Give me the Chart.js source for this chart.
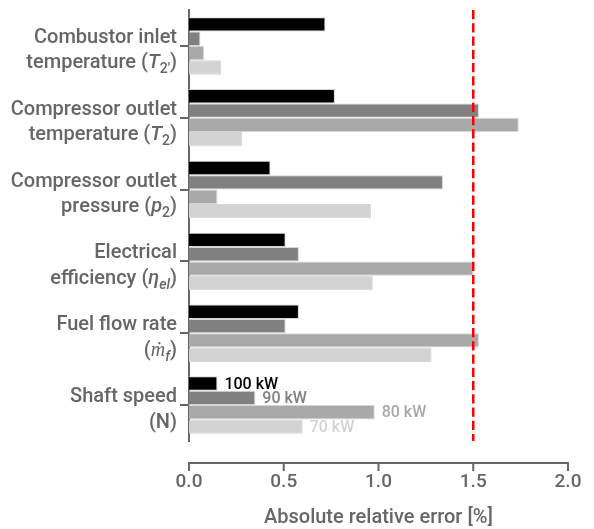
<!DOCTYPE html>
<html>
<head>
<meta charset="utf-8">
<script src="https://cdn.jsdelivr.net/npm/chart.js@4/dist/chart.umd.min.js"></script>
<style>
  html, body { margin: 0; padding: 0; background: #ffffff; }
  #wrap { width: 594px; height: 529px; position: relative; }
</style>
</head>
<body>
<div id="wrap"><canvas id="c"></canvas></div>
<script>
// ---- data ----
const categories = [
  "Combustor inlet temperature (T2')",
  "Compressor outlet temperature (T2)",
  "Compressor outlet pressure (p2)",
  "Electrical efficiency (eta_el)",
  "Fuel flow rate (m_f)",
  "Shaft speed (N)"
];
// rich label lines: {i:..} italic, {s:..} subscript, {si:..} italic subscript
const categoryLines = [
  ["Combustor inlet", "temperature ({i:T}{s:2\u2032})"],
  ["Compressor outlet", "temperature ({i:T}{s:2})"],
  ["Compressor outlet", "pressure ({i:p}{s:2})"],
  ["Electrical", "efficiency ({i:\u03b7}{si:el})"],
  ["Fuel flow rate", "({i:\u1e41}{si:f})"],
  ["Shaft speed", "(N)"]
];
const seriesNames = ["100 kW", "90 kW", "80 kW", "70 kW"];
const values100kW = [0.72, 0.77, 0.43, 0.51, 0.58, 0.15];
const values90kW  = [0.06, 1.53, 1.34, 0.58, 0.51, 0.35];
const values80kW  = [0.08, 1.74, 0.15, 1.50, 1.53, 0.98];
const values70kW  = [0.17, 0.28, 0.96, 0.97, 1.28, 0.60];
const xTickLabels = ["0.0", "0.5", "1.0", "1.5", "2.0"];
const thresholdValue = 1.5;
const axisTitle = "Absolute relative error [%]";

// ---- styles ----
const seriesColors = ["#000000", "#808080", "#a9a9a9", "#d3d3d3"];
const textColor = "#666666";
const FONT = "Roboto";
const WEIGHT = "500";
const labelCategoryIndex = 5;

function parseRich(str) {
  const segs = [];
  const re = /\{(i|s|si):([^}]*)\}/g;
  let last = 0, m;
  while ((m = re.exec(str)) !== null) {
    if (m.index > last) segs.push({ text: str.slice(last, m.index), italic: false, sub: false });
    segs.push({ text: m[2], italic: m[1] === 'i' || m[1] === 'si', sub: m[1] === 's' || m[1] === 'si' });
    last = re.lastIndex;
  }
  if (last < str.length) segs.push({ text: str.slice(last), italic: false, sub: false });
  return segs;
}

function drawRich(ctx, str, right, baseline) {
  const segs = parseRich(str);
  const fontOf = s => (s.italic ? 'italic ' : '') + WEIGHT + ' ' + (s.sub ? '14px ' : '20px ') + FONT;
  let total = 0;
  segs.forEach(s => { ctx.font = fontOf(s); s.w = ctx.measureText(s.text).width; total += s.w; });
  let x = right - total;
  segs.forEach(s => {
    ctx.font = fontOf(s);
    ctx.fillText(s.text, x, baseline + (s.sub ? 5 : 0));
    x += s.w;
  });
}

const richLabelPlugin = {
  id: 'richLabels',
  afterDraw(chart) {
    const ys = chart.scales.y;
    const ctx = chart.ctx;
    ctx.save();
    ctx.fillStyle = textColor;
    ctx.textAlign = 'left';
    ctx.textBaseline = 'alphabetic';
    categoryLines.forEach((lines, i) => {
      const yc = ys.getPixelForValue(i);
      lines.forEach((line, j) => {
        drawRich(ctx, line, 177, yc + (j === 0 ? -3 : 22.5));
      });
    });
    ctx.restore();
  }
};

const xAxisPlugin = {
  id: 'xAxisLine',
  afterDraw(chart) {
    const xs = chart.scales.x;
    const ctx = chart.ctx;
    const y = chart.chartArea.bottom + 22;
    ctx.save();
    ctx.strokeStyle = textColor;
    ctx.lineWidth = 2;
    ctx.beginPath();
    ctx.moveTo(xs.left - 1, y);
    ctx.lineTo(xs.right + 1, y);
    xs.ticks.forEach(t => {
      const px = xs.getPixelForValue(t.value);
      ctx.moveTo(px, y);
      ctx.lineTo(px, y + 8);
    });
    ctx.stroke();
    ctx.restore();
  }
};

const overlayPlugin = {
  id: 'overlay',
  afterDatasetsDraw(chart) {
    const ctx = chart.ctx;
    const xs = chart.scales.x;
    const area = chart.chartArea;
    ctx.save();
    // threshold line
    const px = xs.getPixelForValue(thresholdValue);
    ctx.strokeStyle = '#ff0000';
    ctx.lineWidth = 2.5;
    ctx.setLineDash([9.25, 4]);
    ctx.beginPath();
    ctx.moveTo(px, area.top);
    ctx.lineTo(px, area.bottom);
    ctx.stroke();
    ctx.setLineDash([]);
    // series labels beside last group
    ctx.font = WEIGHT + ' 16px ' + FONT;
    ctx.textAlign = 'left';
    ctx.textBaseline = 'middle';
    chart.data.datasets.forEach((ds, d) => {
      const el = chart.getDatasetMeta(d).data[labelCategoryIndex];
      ctx.fillStyle = ds.backgroundColor;
      ctx.fillText(ds.label, el.x + 7, el.y + 1);
    });
    ctx.restore();
  }
};

const seriesValues = [values100kW, values90kW, values80kW, values70kW];

new Chart(document.getElementById('c'), {
  type: 'bar',
  data: {
    labels: categories,
    datasets: seriesNames.map((name, i) => ({
      label: name,
      data: seriesValues[i],
      backgroundColor: seriesColors[i],
      borderColor: 'rgba(210,210,210,0.9)',
      borderWidth: 1,
      borderSkipped: 'start',
      categoryPercentage: 0.8,
      barPercentage: 1.0
    }))
  },
  options: {
    indexAxis: 'y',
    responsive: true,
    maintainAspectRatio: false,
    animation: false,
    layout: { padding: { top: 10, right: 26, left: 0, bottom: 0 } },
    plugins: { legend: { display: false }, tooltip: { enabled: false } },
    scales: {
      y: {
        type: 'category',
        offset: true,
        ticks: { display: false },
        grid: { display: true, drawOnChartArea: false, drawTicks: true, tickLength: 9, offset: false, color: textColor, lineWidth: 2 },
        border: { display: true, color: textColor, width: 2 },
        afterFit(s) { s.width = 189; s.paddingTop = 0; s.paddingBottom = 0; }
      },
      x: {
        type: 'linear',
        min: 0,
        max: 2,
        ticks: {
          stepSize: 0.5,
          color: textColor,
          font: { family: FONT, size: 19, weight: WEIGHT },
          padding: 30,
          callback: (v, i) => xTickLabels[i]
        },
        grid: { display: false, drawTicks: false },
        border: { display: false },
        title: { display: true, text: axisTitle, color: textColor, font: { family: FONT, size: 20, weight: WEIGHT }, padding: { top: 0, bottom: -1 } },
        afterFit(s) { s.height = 88; s.paddingLeft = 0; s.paddingRight = 0; }
      }
    }
  },
  plugins: [richLabelPlugin, xAxisPlugin, overlayPlugin]
});
</script>
</body>
</html>
